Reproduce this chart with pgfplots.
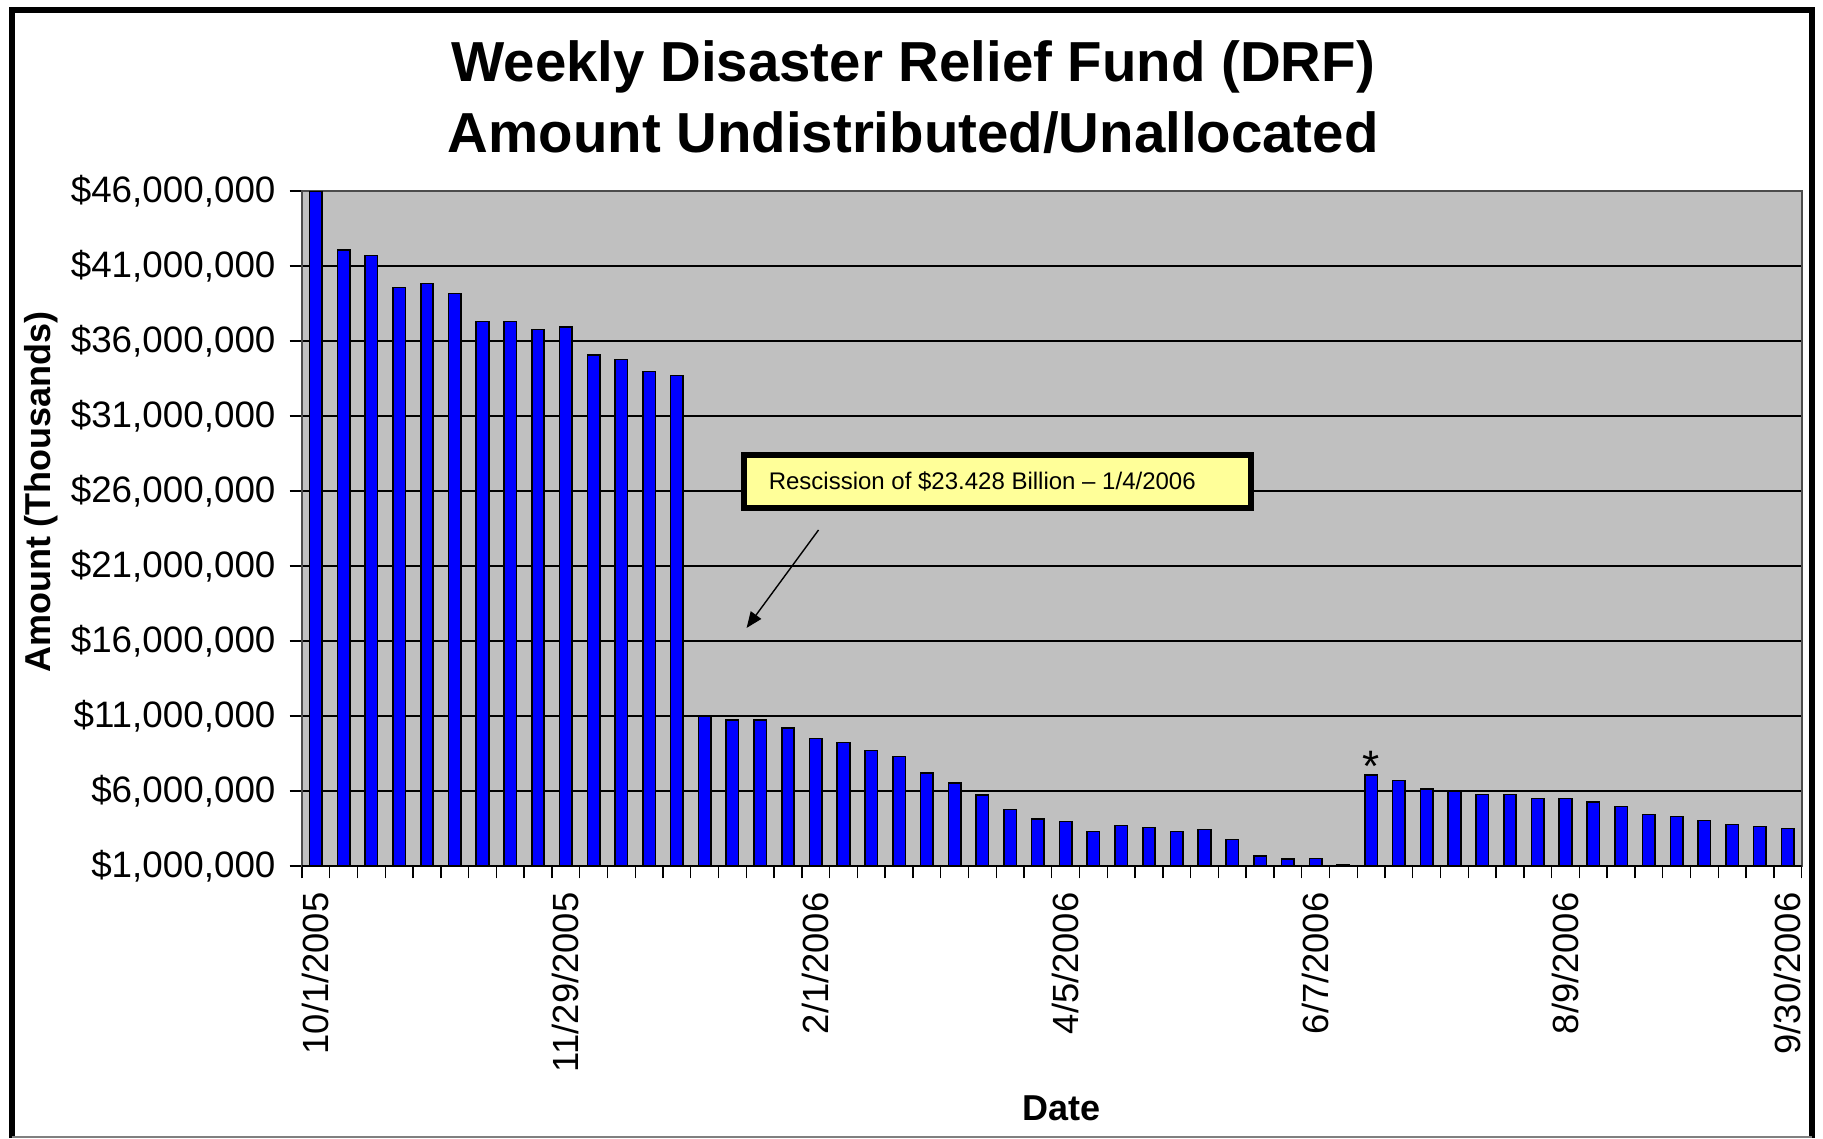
\documentclass[border=0pt]{standalone}
\usepackage{pgfplots}
\pgfplotsset{compat=1.18}
\usepackage{pgfplotstable}
\usepackage{fontspec}
\setmainfont{Liberation Sans}
\usetikzlibrary{arrows.meta}
\definecolor{barblue}{RGB}{0,0,255}
\definecolor{plotgray}{RGB}{192,192,192}
\definecolor{notefill}{RGB}{255,255,153}

% weekly undistributed/unallocated amount, one row per week
\pgfplotstableread{
idx amount
0  46000000
1  42070000
2  41710000
3  39570000
4  39840000
5  39180000
6  37310000
7  37310000
8  36770000
9  36920000
10 35050000
11 34780000
12 33980000
13 33710000
14 11000000
15 10730000
16 10730000
17 10190000
18 9510000
19 9240000
20 8700000
21 8300000
22 7220000
23 6540000
24 5730000
25 4780000
26 4130000
27 3970000
28 3300000
29 3700000
30 3570000
31 3300000
32 3430000
33 2760000
34 1680000
35 1450000
36 1500000
37 1100000
38 7060000
39 6690000
40 6130000
41 6020000
42 5760000
43 5760000
44 5490000
45 5490000
46 5250000
47 4960000
48 4430000
49 4300000
50 4040000
51 3780000
52 3640000
53 3510000
}\drfdata

\begin{document}
\begin{tikzpicture}[x=1pt,y=1pt]
\useasboundingbox (0,0) rectangle (455.75,284.5);
\draw[line width=1.5pt] (3,0) -- (3,282) -- (453.1,282) -- (453.1,0);
\draw[gray, line width=0.5pt] (3,0.3) -- (453.1,0.3);

\node[font=\fontsize{14.1}{17}\selectfont\bfseries, anchor=base, inner sep=0pt] at (228.3,264.0) {Weekly Disaster Relief Fund (DRF)};
\node[font=\fontsize{14.1}{17}\selectfont\bfseries, anchor=base, inner sep=0pt] at (228.3,246.4) {Amount Undistributed/Unallocated};
\node[rotate=90, font=\fontsize{9}{11}\selectfont\bfseries, inner sep=0pt] at (10.25,161.5) {Amount (Thousands)};
\node[anchor=base, font=\fontsize{9}{11}\selectfont\bfseries, inner sep=0pt] at (265.4,4.5) {Date};

\begin{axis}[
    at={(75.5pt,68pt)}, anchor=south west,
    scale only axis,
    width=374.9pt, height=168.75pt,
    xmin=-0.5, xmax=53.5,
    ymin=1000000, ymax=46000000,
    ybar, bar width=0.45,
    axis background/.style={fill=plotgray},
    axis line style={draw=gray!60!black, line width=0.5pt},
    ymajorgrids,
    major grid style={black, line width=0.35pt},
    tick align=outside, tick pos=left,
    major tick length=3.1pt,
    tick style={black, line width=0.35pt},
    xtick={-0.5,0.5,...,53.5},
    xticklabels={},
    extra x ticks={0,9,18,27,36,45,53},
    extra x tick labels={10/1/2005,11/29/2005,2/1/2006,4/5/2006,6/7/2006,8/9/2006,9/30/2006},
    extra x tick style={
        tick style={draw=none},
        xticklabel style={rotate=90, anchor=east, font=\fontsize{9.1}{10}\selectfont}
    },
    ytick={1000000,6000000,11000000,16000000,21000000,26000000,31000000,36000000,41000000,46000000},
    yticklabels={{\$1,000,000},{\$6,000,000},{\$11,000,000},{\$16,000,000},{\$21,000,000},{\$26,000,000},{\$31,000,000},{\$36,000,000},{\$41,000,000},{\$46,000,000}},
    scaled y ticks=false,
    yticklabel style={font=\fontsize{9.2}{10}\selectfont},
]
\addplot[fill=barblue, draw=black, line width=0.4pt] table[x=idx, y=amount] {\drfdata};

\draw[black, line width=0.5pt] (rel axis cs:0,0) -- (rel axis cs:1,0);

\draw[-{Triangle[length=4pt,width=3.2pt]}, line width=0.35pt]
    (axis cs:18.10,23400000) -- (axis cs:15.51,16870000);
\draw[fill=notefill, line width=1.35pt]
    (axis cs:15.42,24870000) rectangle (axis cs:33.67,28400000);
\node[anchor=west, inner sep=0pt, font=\fontsize{6}{7}\selectfont]
    at (axis cs:16.28,26630000) {Rescission of \$23.428 Billion – 1/4/2006};
\node[inner sep=0pt, font=\fontsize{11}{12}\selectfont]
    at (axis cs:38,7650000) {*};
\end{axis}
\end{tikzpicture}
\end{document}
